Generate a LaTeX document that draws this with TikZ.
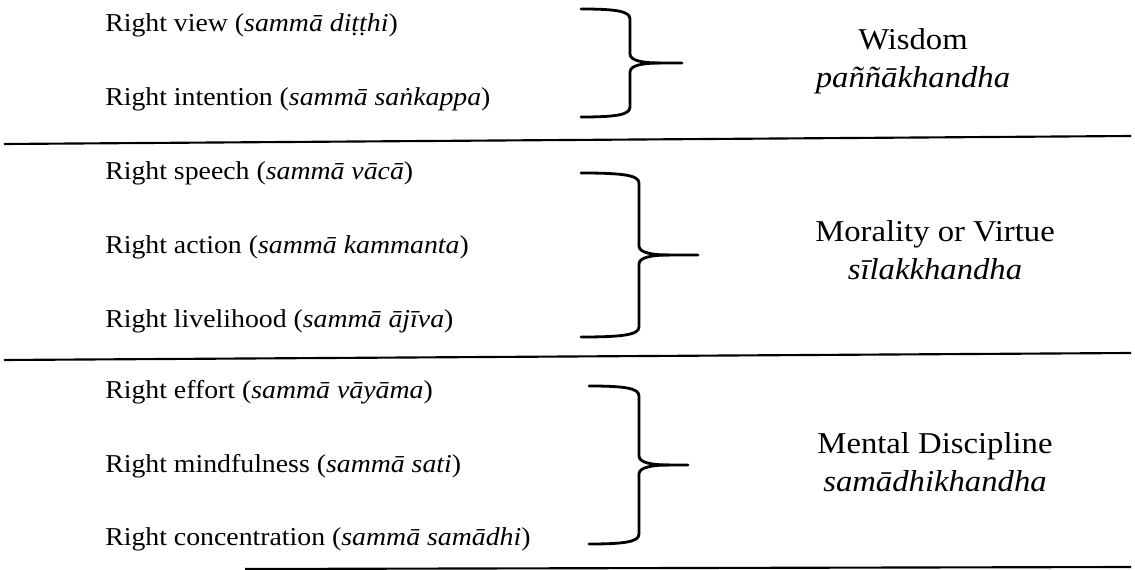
\documentclass[tikz,border=0pt]{standalone}
\usepackage{fontspec}
\setmainfont{Liberation Serif}[FakeStretch=1.08]
\begin{document}
\begin{tikzpicture}[x=0.75pt,y=-0.75pt,
  path/.style={font=\fontsize{19.3pt}{23pt}\selectfont, anchor=base west, inner sep=0pt},
  khandha/.style={font=\fontsize{22.7pt}{27pt}\selectfont, anchor=base, inner sep=0pt},
  rule/.style={line width=1.6pt, line cap=butt},
  bracestroke/.style={line width=2.1pt, line cap=round, line join=round}]
\useasboundingbox (0,0) rectangle (1135,570);

% curly bracket: left x, stem x, tip x, top y, bottom y
\newcommand\grpbrace[5]{%
  \pgfmathsetmacro\ymid{(#4+#5)/2}%
  \draw[bracestroke] (#1,#4) .. controls ({#1+0.7*(#2-#1)},#4) and (#2,{#4+2}) .. (#2,{#4+10})
     -- (#2,{\ymid-9}) .. controls (#2,{\ymid-2}) and ({#2+14},{\ymid}) .. ({#2+30},\ymid) -- (#3,\ymid);
  \draw[bracestroke] ({#2+30},\ymid) .. controls ({#2+14},{\ymid}) and (#2,{\ymid+2}) .. (#2,{\ymid+9})
     -- (#2,{#5-10}) .. controls (#2,{#5-2}) and ({#1+0.7*(#2-#1)},#5) .. (#1,#5);
}

% section dividers
\coordinate (d1a) at (4,144);   \coordinate (d1b) at (1131,136);
\coordinate (d2a) at (4,360);   \coordinate (d2b) at (1131,353);
\coordinate (d3a) at (245,569); \coordinate (d3b) at (1131,567);
\draw[rule] (d1a) -- (d1b);
\draw[rule] (d2a) -- (d2b);
\draw[rule] (d3a) -- (d3b);

% wisdom
\node[path] (view) at (105,32)  {Right view (\textit{sammā diṭṭhi})};
\node[path] (intn) at (105,106) {Right intention (\textit{sammā saṅkappa})};
\grpbrace{581}{630}{682}{9}{117}
\node[khandha] (wis)  at (913,50) {Wisdom};
\node[khandha] (wisp) at (913,88) {\textit{paññākhandha}};

% morality
\node[path] (spch) at (105,180) {Right speech (\textit{sammā vācā})};
\node[path] (actn) at (105,254) {Right action (\textit{sammā kammanta})};
\node[path] (live) at (105,328) {Right livelihood (\textit{sammā ājīva})};
\grpbrace{581}{639}{698}{173}{337}
\node[khandha] (mor)  at (935,242) {Morality or Virtue};
\node[khandha] (morp) at (935,280) {\textit{sīlakkhandha}};

% mental discipline
\node[path] (effo) at (105,398) {Right effort (\textit{sammā vāyāma})};
\node[path] (mind) at (105,472) {Right mindfulness (\textit{sammā sati})};
\node[path] (conc) at (105,545) {Right concentration (\textit{sammā samādhi})};
\grpbrace{589}{639}{688}{386}{544}
\node[khandha] (men)  at (935,453) {Mental Discipline};
\node[khandha] (menp) at (935,491) {\textit{samādhikhandha}};
\end{tikzpicture}
\end{document}
